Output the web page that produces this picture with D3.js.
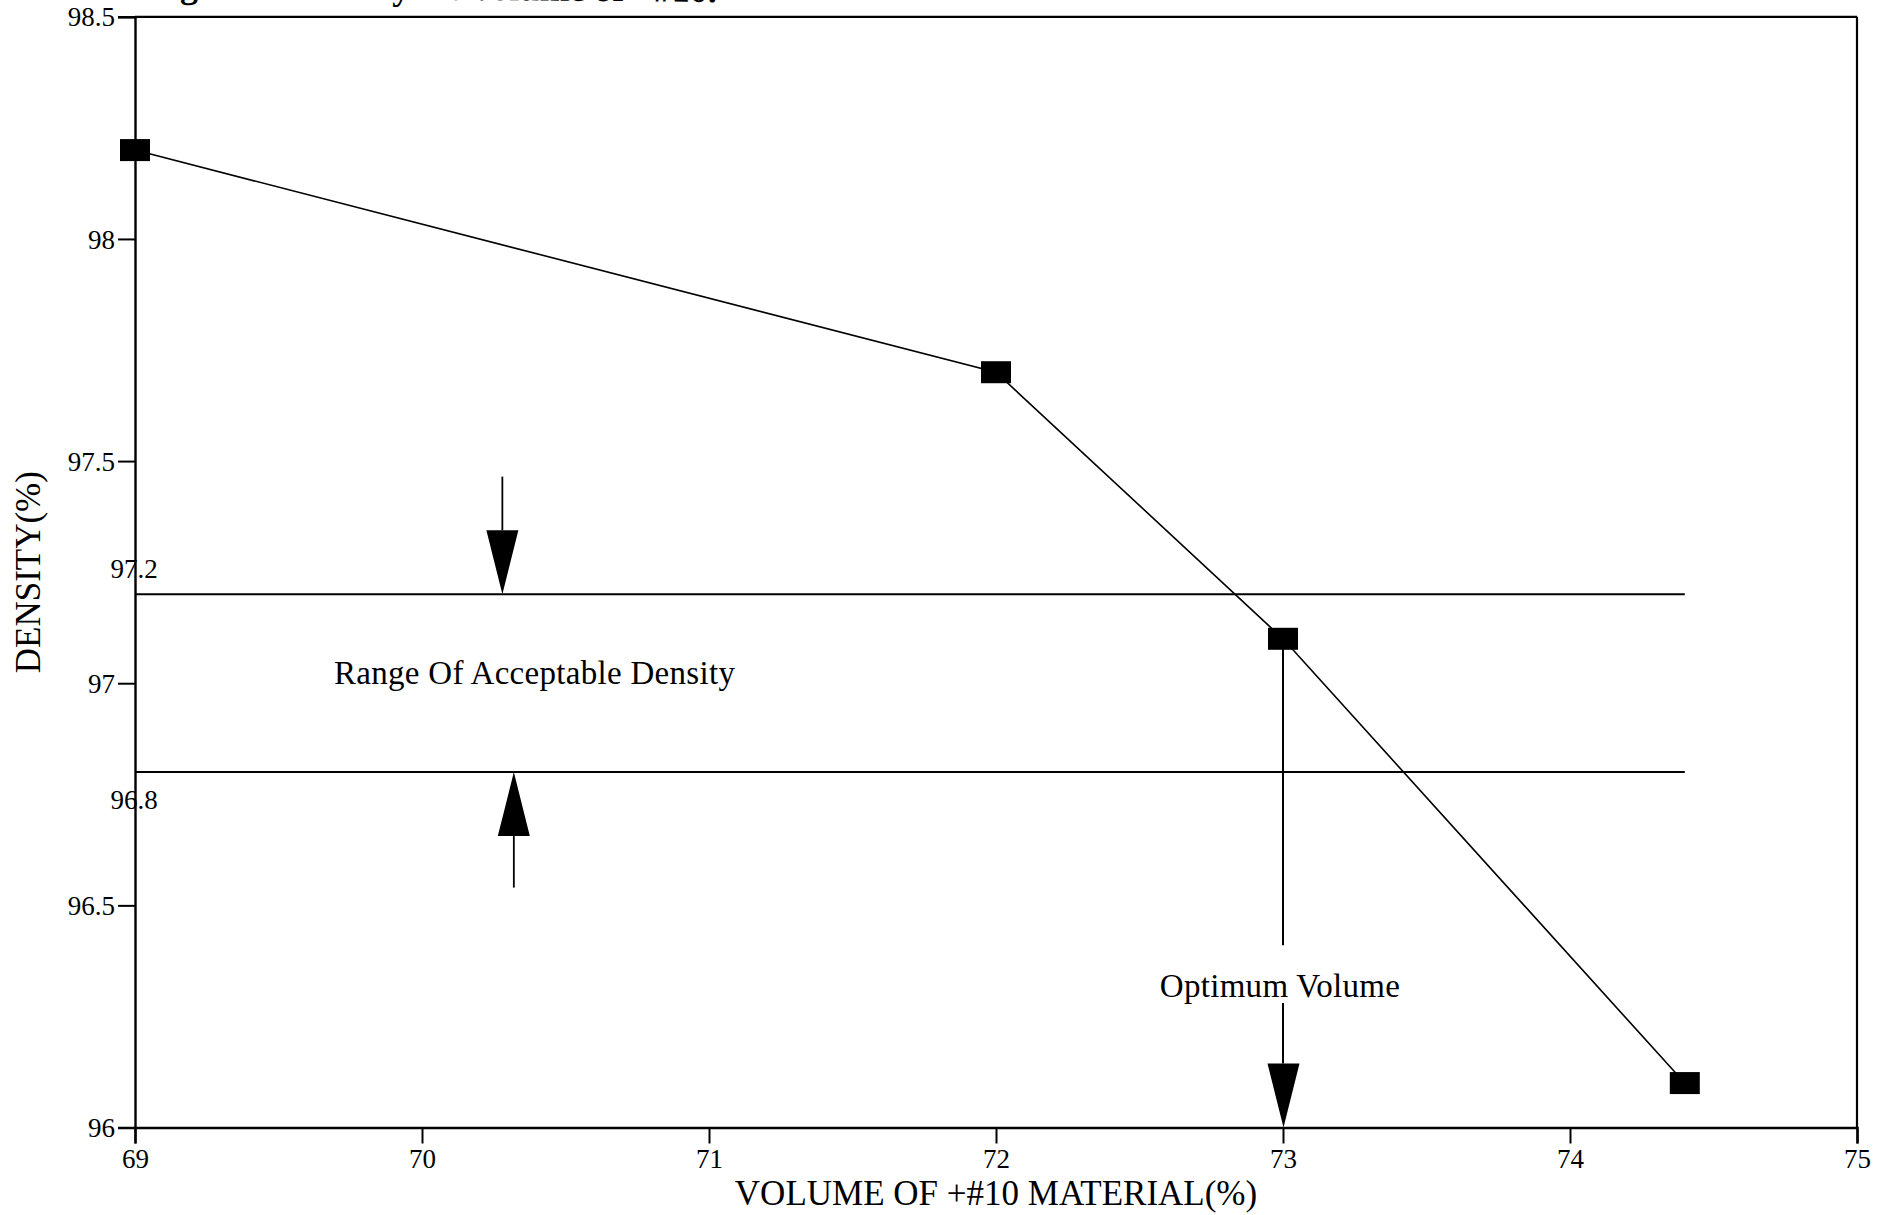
<!DOCTYPE html>
<html>
<head>
<meta charset="utf-8">
<script src="https://cdn.jsdelivr.net/npm/d3@7"></script>
<style>
  html, body { margin: 0; padding: 0; background: #fff; }
  svg { display: block; }
  text { font-family: "Liberation Serif", "DejaVu Serif", serif; fill: #000; }
</style>
</head>
<body>
<svg id="chart" width="1886" height="1215"></svg>
<script>
// Measured density against the volume of +#10 material
const volume = [69, 72, 73, 74.4];
const density = [98.2, 97.7, 97.1, 96.1];

// Axis ticks
const xTicks = [69, 70, 71, 72, 73, 74, 75];
const yTicks = [96, 96.5, 97, 97.5, 98, 98.5];

// Band of acceptable density
const bandLimits = [97.2, 96.8];
const bandLabels = ["97.2", "96.8"];
const bandExtent = [69, 74.4];

// Arrows pointing at the band limits: [x, shaft end, tip]
const bandArrows = [
  [70.28, 97.465, 97.2],
  [70.32, 96.54, 96.8]
];

// Optimum-volume arrow: x, upper shaft segment, lower shaft start, tip
const optimumX = 73;
const optimumShaft = [97.1, 96.41];
const optimumLower = [96.28, 96.0];

const svg = d3.select("#chart");
const W = 1886, H = 1215;
const m = { left: 135, right: W - 1857, top: 16.8, bottom: H - 1127.5 };

const x = d3.scaleLinear().domain([69, 75]).range([m.left, W - m.right]);
const y = d3.scaleLinear().domain([96, 98.5]).range([H - m.bottom, m.top]);

// Caption running off the top edge (only its lowest strokes are on the page)
svg.append("text")
  .attr("x", 148).attr("y", -3)
  .attr("transform", "rotate(0.5 148 -3)")
  .attr("font-size", 36).attr("font-weight", "bold")
  .text("Figure 6. Density vs. Volume of +#10.");

// Frame
const frame = svg.append("g").attr("stroke", "#000").attr("fill", "none");
frame.append("line").attr("x1", x(69)).attr("x2", x(75)).attr("y1", y(98.5)).attr("y2", y(98.5)).attr("stroke-width", 2.2);
frame.append("line").attr("x1", x(75)).attr("x2", x(75)).attr("y1", y(98.5)).attr("y2", y(96)).attr("stroke-width", 2.2);

// Axes
const xAxis = svg.append("g")
  .attr("transform", `translate(0,${y(96)})`)
  .call(d3.axisBottom(x).tickValues(xTicks).tickFormat(d3.format("d")).tickSize(16).tickPadding(3));
const yAxis = svg.append("g")
  .attr("transform", `translate(${x(69)},0)`)
  .call(d3.axisLeft(y).tickValues(yTicks).tickFormat(d => String(d)).tickSize(17).tickPadding(3));

[xAxis, yAxis].forEach(g => {
  g.select(".domain").attr("stroke", "#000").attr("stroke-width", 2.4);
  g.selectAll(".tick line").attr("stroke", "#000").attr("stroke-width", 2);
  g.selectAll(".tick text")
    .attr("font-family", "Liberation Serif, serif")
    .attr("font-size", 27).attr("fill", "#000");
});
yAxis.selectAll(".tick text").attr("dy", "0.34em");
xAxis.selectAll(".tick text").attr("dy", "0.78em");

// Acceptable density band
svg.append("g").selectAll("line").data(bandLimits).join("line")
  .attr("x1", x(bandExtent[0])).attr("x2", x(bandExtent[1]))
  .attr("y1", d => y(d)).attr("y2", d => y(d))
  .attr("stroke", "#000").attr("stroke-width", 2);

svg.append("g").selectAll("text").data(bandLimits).join("text")
  .attr("x", x(69) - 1)
  .attr("y", (d, i) => i === 0 ? y(d) - 16 : y(d) + 37)
  .attr("text-anchor", "middle").attr("font-size", 27)
  .text((d, i) => bandLabels[i]);

// Filled arrowhead: base at yBase, point at yTip
function arrowHead(g, xc, yBase, yTip, w) {
  g.append("path")
    .attr("d", `M${xc - w / 2},${yBase} L${xc + w / 2},${yBase} L${xc},${yTip} Z`)
    .attr("fill", "#000");
}

const headLen = 64, headW = 32;
bandArrows.forEach(([ax, from, to]) => {
  const g = svg.append("g");
  const dir = y(to) > y(from) ? 1 : -1;
  g.append("line")
    .attr("x1", x(ax)).attr("x2", x(ax))
    .attr("y1", y(from)).attr("y2", y(to) - dir * headLen)
    .attr("stroke", "#000").attr("stroke-width", 1.8);
  arrowHead(g, x(ax), y(to) - dir * headLen, y(to), headW);
});

svg.append("text")
  .attr("x", 334).attr("y", 684)
  .attr("font-size", 33).attr("letter-spacing", 0.3)
  .text("Range Of Acceptable Density");

// Optimum volume arrow
const opt = svg.append("g");
opt.append("line")
  .attr("x1", x(optimumX)).attr("x2", x(optimumX))
  .attr("y1", y(optimumShaft[0])).attr("y2", y(optimumShaft[1]))
  .attr("stroke", "#000").attr("stroke-width", 2);
opt.append("line")
  .attr("x1", x(optimumX)).attr("x2", x(optimumX))
  .attr("y1", y(optimumLower[0])).attr("y2", y(optimumLower[1]) - headLen)
  .attr("stroke", "#000").attr("stroke-width", 2);
arrowHead(opt, x(optimumX) + 0.5, y(optimumLower[1]) - headLen, y(optimumLower[1]), headW);

svg.append("text")
  .attr("x", x(optimumX) - 3).attr("y", 997)
  .attr("text-anchor", "middle").attr("font-size", 33).attr("letter-spacing", 0.3)
  .text("Optimum Volume");

// Density curve and markers
const pts = volume.map((v, i) => [v, density[i]]);
svg.append("path")
  .datum(pts)
  .attr("d", d3.line().x(d => x(d[0])).y(d => y(d[1])))
  .attr("fill", "none").attr("stroke", "#000").attr("stroke-width", 1.6);

const mw = 30, mh = 22;
svg.append("g").selectAll("rect").data(pts).join("rect")
  .attr("x", d => x(d[0]) - mw / 2).attr("y", d => y(d[1]) - mh / 2)
  .attr("width", mw).attr("height", mh).attr("fill", "#000");

// Axis titles
svg.append("text")
  .attr("x", (x(69) + x(75)) / 2).attr("y", 1205)
  .attr("text-anchor", "middle").attr("font-size", 35)
  .text("VOLUME OF +#10 MATERIAL(%)");

svg.append("text")
  .attr("transform", `translate(40,${(y(98.5) + y(96)) / 2}) rotate(-90)`)
  .attr("text-anchor", "middle").attr("font-size", 35)
  .text("DENSITY(%)");
</script>
</body>
</html>
